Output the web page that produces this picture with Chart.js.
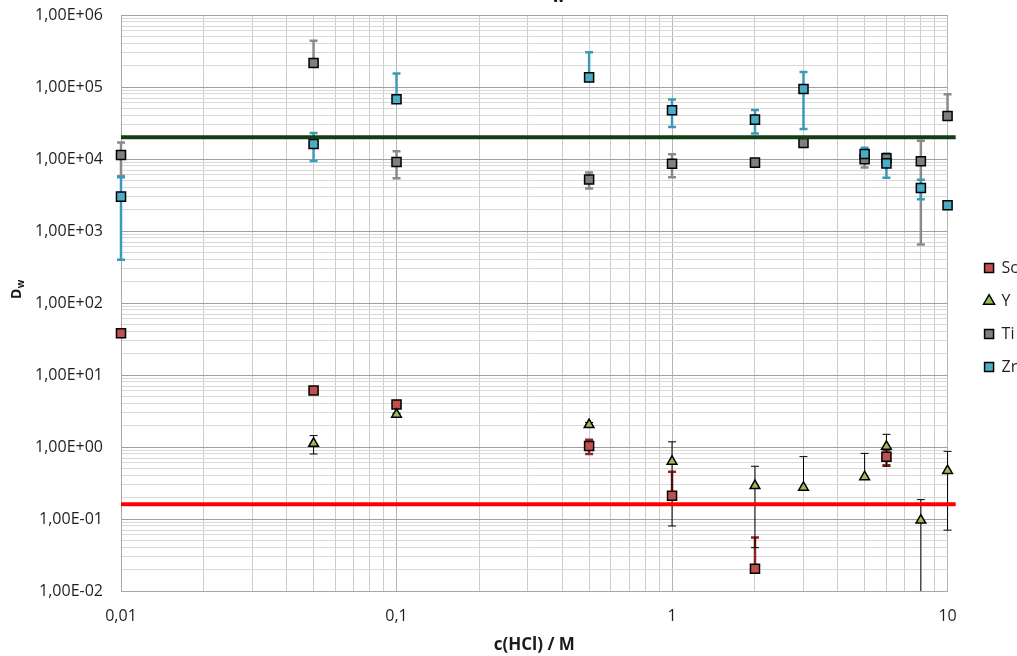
<!DOCTYPE html>
<html lang="en">
<head>
<meta charset="UTF-8">
<title>Dw vs c(HCl)</title>
<script src="https://cdn.jsdelivr.net/npm/chart.js"></script>
<style>
    html, body {
        margin: 0;
        padding: 0;
        background: #ffffff;
        overflow: hidden;
    }
    #wrap {
        position: relative;
        width: 1028px;
        height: 656px;
    }
</style>
</head>
<body>
<div id="wrap"><canvas id="dwChart"></canvas></div>
<script>
    // HCl concentrations (M)
    const conc = [0.01, 0.05, 0.1, 0.5, 1, 2, 3, 5, 6, 8, 10];

    // distribution ratios, null = not measured
    const scVals = [38, 6.1, 3.9, 1.03, 0.21, 0.0204, null, null, 0.73, null, null];
    const scErr  = [0, 0, 0, 0.23, 0.243, 0.035, null, null, 0.17, null, null];

    const yVals = [null, 1.12, 2.84, 2.04, 0.63, 0.29, 0.275, 0.385, 1.02, 0.096, 0.47];
    const yErr  = [null, 0.32, 0.1, 0.15, 0.55, 0.25, 0.46, 0.43, 0.48, 0.09, 0.4];

    const tiVals = [11400, 215000, 9100, 5200, 8600, 8900, 16700, 9900, 10200, 9300, 39500];
    const tiErr  = [5600, 225000, 3700, 1300, 3000, 0, 0, 2300, 0, 8650, 40000];

    const zrVals = [3000, 16200, 67400, 136000, 47400, 35200, 94000, 11700, 8700, 3950, 2280];
    const zrErr  = [2600, 6800, 86000, 167000, 19500, 12600, 68000, 2600, 3200, 1200, 250];

    // reference levels
    const limitX = [0.01, 10.7];
    const limitHigh = 20000;
    const limitLow = 0.16;

    const xTickLabels = ['0,01', '0,1', '1', '10'];
    const yTickLabels = ['1,00E-02', '1,00E-01', '1,00E+00', '1,00E+01', '1,00E+02',
                         '1,00E+03', '1,00E+04', '1,00E+05', '1,00E+06'];

    Chart.defaults.font.family = "'Open Sans', sans-serif";
    Chart.defaults.color = '#1f1f1f';

    function toPoints(vals, errs) {
        return conc.map((x, i) => vals[i] == null ? null : { x: x, y: vals[i], err: errs[i] })
                   .filter(p => p !== null);
    }

    function isDecade(v) {
        const l = Math.log10(v);
        return Math.abs(l - Math.round(l)) < 1e-9;
    }

    function logTicks(minExp, maxExp) {
        const ticks = [];
        for (let e = minExp; e < maxExp; e++) {
            for (let m = 1; m <= 9; m++) {
                ticks.push({ value: parseFloat((m * Math.pow(10, e)).toPrecision(6)) });
            }
        }
        ticks.push({ value: Math.pow(10, maxExp) });
        return ticks;
    }

    // vertical error bars, drawn under the markers
    const errorBars = {
        id: 'errorBars',
        beforeDatasetsDraw(chart) {
            const { ctx, chartArea } = chart;
            const yScale = chart.scales.y;
            ctx.save();
            ctx.beginPath();
            ctx.rect(chartArea.left - 10, chartArea.top, chartArea.width + 20, chartArea.height);
            ctx.clip();
            chart.data.datasets.forEach((ds, di) => {
                if (!ds.errorColor) return;
                const meta = chart.getDatasetMeta(di);
                ctx.strokeStyle = ds.errorColor;
                ctx.lineWidth = ds.errorWidth;
                const cap = 4;
                meta.data.forEach((pt, i) => {
                    const raw = ds.data[i];
                    if (!raw.err) return;
                    const top = yScale.getPixelForValue(raw.y + raw.err);
                    const hasLow = raw.y - raw.err > 0;
                    const bot = hasLow ? yScale.getPixelForValue(raw.y - raw.err) : pt.y;
                    ctx.beginPath();
                    ctx.moveTo(pt.x, top);
                    ctx.lineTo(pt.x, bot);
                    ctx.moveTo(pt.x - cap, top);
                    ctx.lineTo(pt.x + cap, top);
                    if (hasLow) {
                        ctx.moveTo(pt.x - cap, bot);
                        ctx.lineTo(pt.x + cap, bot);
                    }
                    ctx.stroke();
                });
            });
            ctx.restore();
        }
    };

    // y axis title with subscript, plus the clipped chart title at the top
    const dwTitles = {
        id: 'dwTitles',
        afterDraw(chart) {
            const ctx = chart.ctx;
            ctx.save();
            ctx.fillStyle = '#1a1a1a';
            ctx.textAlign = 'left';
            ctx.textBaseline = 'alphabetic';
            ctx.translate(21, 299);
            ctx.rotate(-Math.PI / 2);
            ctx.font = "bold 14px 'Open Sans', sans-serif";
            ctx.fillText('D', 0, 0);
            const dw = ctx.measureText('D').width;
            ctx.font = "bold 10px 'Open Sans', sans-serif";
            ctx.fillText('w', dw + 0.5, 3);
            ctx.restore();

            ctx.save();
            ctx.fillStyle = '#1a1a1a';
            ctx.textBaseline = 'alphabetic';
            ctx.font = "bold 22px 'Open Sans', sans-serif";
            ctx.fillText('D', 536, -6);
            ctx.font = "bold 15px 'Open Sans', sans-serif";
            ctx.fillText('w', 552, 2);
            ctx.restore();
        }
    };

    const ctx = document.getElementById('dwChart').getContext('2d');
    const dwChart = new Chart(ctx, {
        type: 'scatter',
        data: {
            datasets: [
                {
                    label: 'limit high',
                    type: 'line',
                    data: limitX.map(x => ({ x: x, y: limitHigh })),
                    borderColor: '#143d14',
                    borderWidth: 4,
                    pointRadius: 0,
                    clip: false,
                    order: 0,
                    xAxisID: 'x', yAxisID: 'y'
                },
                {
                    label: 'limit low',
                    type: 'line',
                    data: limitX.map(x => ({ x: x, y: limitLow })),
                    borderColor: '#ff0000',
                    borderWidth: 4,
                    pointRadius: 0,
                    clip: false,
                    order: 0,
                    xAxisID: 'x', yAxisID: 'y'
                },
                {
                    label: 'Sc',
                    data: toPoints(scVals, scErr),
                    pointStyle: 'rect',
                    pointRadius: 6.4,
                    backgroundColor: '#c0504d',
                    borderColor: '#000000',
                    borderWidth: 1.5,
                    errorColor: '#8e2523',
                    errorWidth: 2.5,
                    clip: false,
                    order: 4,
                    xAxisID: 'x', yAxisID: 'y'
                },
                {
                    label: 'Y',
                    data: toPoints(yVals, yErr),
                    pointStyle: 'triangle',
                    pointRadius: 5.6,
                    backgroundColor: '#9bbb59',
                    borderColor: '#000000',
                    borderWidth: 1.5,
                    errorColor: '#000000',
                    errorWidth: 1,
                    clip: false,
                    order: 3,
                    xAxisID: 'x', yAxisID: 'y'
                },
                {
                    label: 'Ti',
                    data: toPoints(tiVals, tiErr),
                    pointStyle: 'rect',
                    pointRadius: 6.4,
                    backgroundColor: '#7f7f7f',
                    borderColor: '#000000',
                    borderWidth: 1.5,
                    errorColor: '#8a8a8a',
                    errorWidth: 2.5,
                    clip: false,
                    order: 2,
                    xAxisID: 'x', yAxisID: 'y'
                },
                {
                    label: 'Zr',
                    data: toPoints(zrVals, zrErr),
                    pointStyle: 'rect',
                    pointRadius: 6.4,
                    backgroundColor: '#4bacc6',
                    borderColor: '#000000',
                    borderWidth: 1.5,
                    errorColor: '#3a9bb8',
                    errorWidth: 2.5,
                    clip: false,
                    order: 1,
                    xAxisID: 'x', yAxisID: 'y'
                }
            ]
        },
        options: {
            responsive: true,
            maintainAspectRatio: false,
            animation: false,
            devicePixelRatio: 1,
            layout: { padding: { top: 15, left: 0, right: 0, bottom: 0 } },
            plugins: {
                tooltip: { enabled: false },
                legend: {
                    position: 'right',
                    fullSize: false,
                    reverse: true,
                    title: { display: true, text: '', font: { size: 10, lineHeight: 1.5 }, padding: 7 },
                    labels: {
                        filter: item => item.text === 'Sc' || item.text === 'Y' || item.text === 'Ti' || item.text === 'Zr',
                        usePointStyle: true,
                        boxWidth: 9,
                        boxHeight: 9,
                        padding: 17,
                        color: '#1f1f1f',
                        font: { size: 16 }
                    }
                }
            },
            scales: {
                x: {
                    type: 'logarithmic',
                    position: 'bottom',
                    min: 0.01,
                    max: 10,
                    afterBuildTicks: s => { s.ticks = logTicks(-2, 1); },
                    afterFit: s => { s.height = 65; },
                    ticks: {
                        autoSkip: false,
                        maxRotation: 0,
                        padding: 16,
                        font: { size: 16 },
                        callback: v => isDecade(v) ? xTickLabels[Math.round(Math.log10(v)) + 2] : ''
                    },
                    grid: {
                        drawTicks: false,
                        color: c => isDecade(c.tick.value) ? '#b5b5b5' : '#cdcdcd'
                    },
                    border: { color: '#a6a6a6' },
                    title: {
                        display: true,
                        text: 'c(HCl) / M',
                        color: '#1a1a1a',
                        font: { size: 17, weight: 'bold' },
                        padding: { top: 0, bottom: 1 }
                    }
                },
                y: {
                    type: 'logarithmic',
                    position: 'left',
                    min: 0.01,
                    max: 1e6,
                    afterBuildTicks: s => { s.ticks = logTicks(-2, 6); },
                    afterFit: s => { s.width = 121; s.paddingTop = 0; s.paddingBottom = 0; },
                    ticks: {
                        autoSkip: false,
                        padding: 18,
                        font: { size: 16 },
                        callback: v => isDecade(v) ? yTickLabels[Math.round(Math.log10(v)) + 2] : ''
                    },
                    grid: {
                        drawTicks: false,
                        color: c => isDecade(c.tick.value) ? '#a0a0a0' : '#d9d9d9'
                    },
                    border: { color: '#a6a6a6' }
                },
                yPad: {
                    type: 'linear',
                    position: 'right',
                    display: true,
                    afterFit: s => { s.width = 20; s.paddingTop = 0; s.paddingBottom = 0; },
                    ticks: { display: false },
                    grid: { display: false, drawTicks: false },
                    border: { display: false }
                }
            }
        },
        plugins: [errorBars, dwTitles]
    });
</script>
</body>
</html>
